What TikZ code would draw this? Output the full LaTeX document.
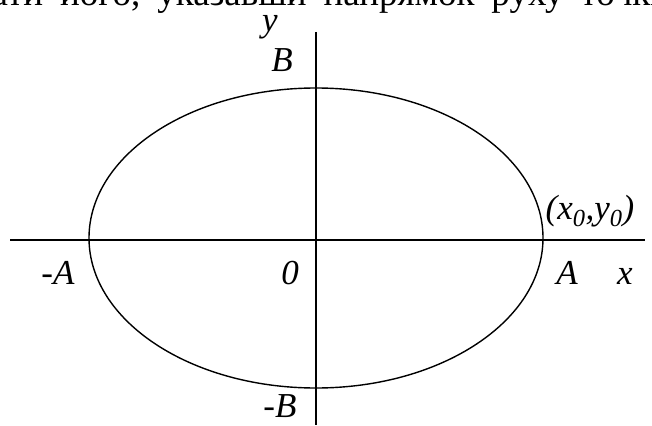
\documentclass[tikz,border=0pt]{standalone}
\usepackage{fontspec}
\setmainfont{Liberation Serif}
\usepackage{tikz}
\usetikzlibrary{positioning}
\tikzset{
  axislabel/.style={font=\fontsize{35}{35}\selectfont\itshape, inner sep=0pt},
}
\begin{document}
\begin{tikzpicture}[x=1pt, y=-1pt, line width=1.4pt]
        \useasboundingbox (0,0) rectangle (652,425);
        \clip (0,0) rectangle (652,425);

        % Text above, cut off
        \node[anchor=base west, inner sep=0pt, font=\fontsize{37}{37}\selectfont] (toptext) at (-9,6)
          {\spaceskip=17pt ати його, указавши напрямок руху точки};

        % Axes
        \coordinate (xl) at (10,240);
        \coordinate (xr) at (645,240);
        \coordinate (yt) at (316,32);
        \coordinate (yb) at (316,425);
        \draw (xl) -- (xr);
        \draw (yt) -- (yb);

        % Ellipse
        \coordinate (o) at (316,238);
        \draw (o) ellipse [x radius=227, y radius=150];

        % Labels
        \node[axislabel] (ylab) at (270,27) {y};
        \node[axislabel] (bup) at (282,60) {B};
        \node[axislabel] (bdown) at (280,406) {-B};
        \node[axislabel] (aleft) at (58,273) {-A};
        \node[axislabel] (aright) at (567,273) {A};
        \node[axislabel] (zero) at (290,273) {0};
        \node[axislabel] (xlab) at (625,276) {x};
        \node[axislabel] (pt) at (590,211) {(x\textsubscript{0},y\textsubscript{0})};
    \end{tikzpicture}
\end{document}
